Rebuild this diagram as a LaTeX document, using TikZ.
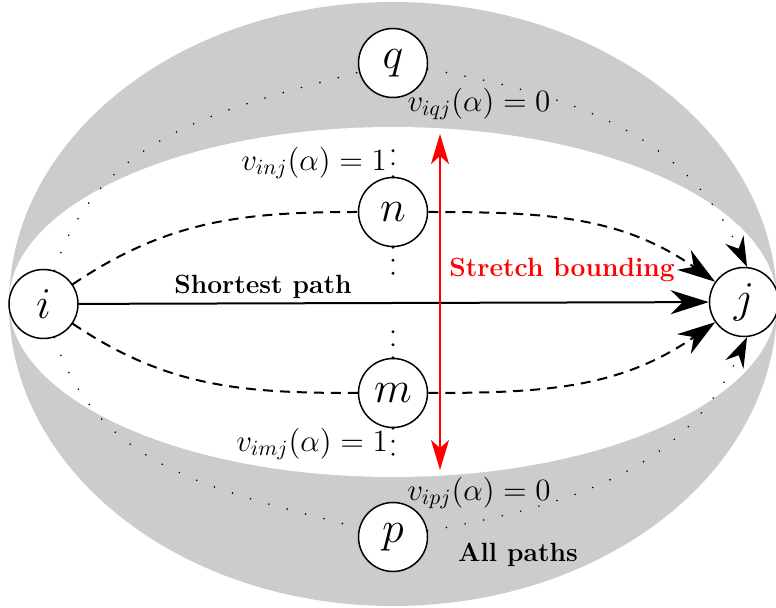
\documentclass[tikz,border=0pt]{standalone}
\usepackage{fix-cm}
\usetikzlibrary{arrows.meta}
\begin{document}
\begin{tikzpicture}[x=0.5pt,y=-0.5pt,
  vtx/.style={circle,draw,line width=0.75pt,fill=white,minimum size=34.5pt,inner sep=0pt,font=\fontsize{22}{26}\selectfont},
  lbl/.style={font=\fontsize{15.5}{18}\selectfont,inner sep=0pt},
  boldlbl/.style={font=\fontsize{13.2}{16}\selectfont\bfseries,inner sep=0pt},
  bigtip/.style={-{Stealth[length=19pt,width=12pt,inset=6pt]}},
  smalltip/.style={-{Stealth[length=15pt,width=10pt,inset=5pt]}},
  redtip/.style={{Stealth[length=15pt,width=9pt,inset=4pt]}-{Stealth[length=15pt,width=9pt,inset=4pt]}},
  dashedge/.style={line width=1pt,dash pattern=on 5pt off 3.5pt},
  sparsedots/.style={line width=0.9pt,line cap=round,dash pattern=on 0pt off 9.5pt},
  vdots/.style={line width=1.6pt,line cap=round,dash pattern=on 0pt off 6.5pt}
]
\useasboundingbox (0,0) rectangle (776,608);
\fill[black!20] (393,304) ellipse [x radius=192pt, y radius=151pt];
\fill[white] (393,302) ellipse [x radius=192pt, y radius=87.5pt];

\node[vtx] (i) at (43.5,304) {$i$};
\node[vtx] (j) at (744,302) {$j$};
\node[vtx] (n) at (393,212) {$n$};
\node[vtx] (m) at (393,393) {$m$};
\node[vtx] (q) at (393,63) {$q$};
\node[vtx] (p) at (393,537) {$p$};

\coordinate (nt) at (393,140);
\coordinate (nb) at (393,286);
\coordinate (mt) at (393,320);
\coordinate (mb) at (393,465);
\coordinate (rt) at (440,134);
\coordinate (rb) at (440,470);

% shortest path
\draw[line width=1pt,bigtip] (i) -- (j);
% dashed paths
\draw[dashedge] (i) to[out=34,in=180] (n);
\draw[dashedge,bigtip] (n) to[out=0,in=145] (j);
\draw[dashedge] (i) to[out=-34,in=180] (m);
\draw[dashedge,bigtip] (m) to[out=0,in=-145] (j);
% dotted paths
\draw[sparsedots] (i) to[out=72,in=195] (q);
\draw[sparsedots,smalltip] (q) to[out=-10,in=115] (j.85);
\draw[sparsedots] (i) to[out=-72,in=165] (p);
\draw[sparsedots,smalltip] (p) to[out=10,in=-115] (j.-85);
% vertical dots
\draw[vdots] (n.north) -- (nt);
\draw[vdots] (n.south) -- (nb);
\draw[vdots] (m.north) -- (mt);
\draw[vdots] (m.south) -- (mb);
% red stretch arrow
\draw[red,line width=1pt,redtip] (rt) -- (rb);

% labels
\node[boldlbl] (sp) at (263,287) {Shortest path};
\node[boldlbl,text=red] (sb) at (562,270) {Stretch bounding};
\node[boldlbl] (ap) at (518,555) {All paths};
\node[lbl] (lq) at (479,104) {$v_{iqj}(\alpha)=0$};
\node[lbl] (ln) at (314,163) {$v_{inj}(\alpha)=1$};
\node[lbl] (lm) at (312,444) {$v_{imj}(\alpha)=1$};
\node[lbl] (lp) at (479,493) {$v_{ipj}(\alpha)=0$};
\end{tikzpicture}
\end{document}
